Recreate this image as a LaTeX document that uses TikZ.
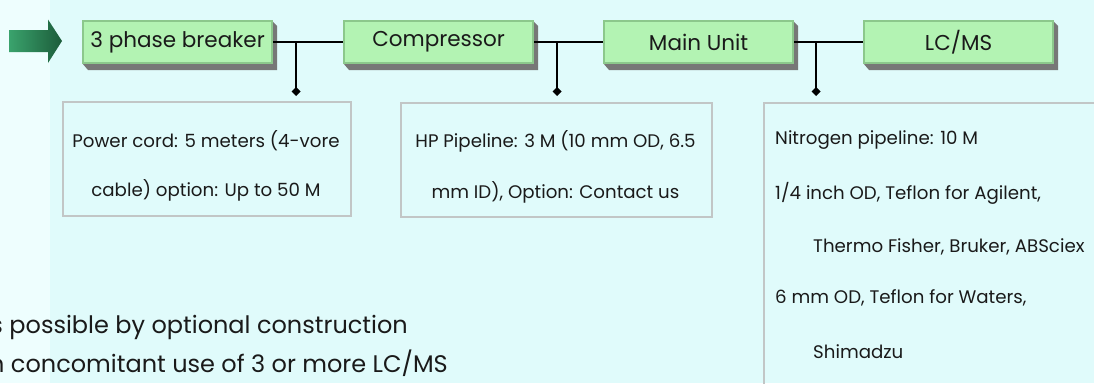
\documentclass[tikz,border=0pt]{standalone}
\usepackage{fontspec}
\setmainfont{Poppins}
\usetikzlibrary{arrows.meta}
\definecolor{bgc}{HTML}{E0FBFB}
\definecolor{bgl}{HTML}{EEFEFE}
\definecolor{facec}{HTML}{B3F3B3}
\definecolor{edgec}{HTML}{8CC88C}
\definecolor{shadc}{HTML}{777777}
\definecolor{notec}{HTML}{C2C6C6}
\definecolor{txt}{HTML}{1A1A1A}
\definecolor{arrA}{HTML}{3AA36D}
\definecolor{arrB}{HTML}{1C5C3A}
\tikzset{
  unitbox/.style={draw=edgec, line width=2.2pt, fill=facec, minimum width=189pt, minimum height=42pt, inner sep=0pt, anchor=north west, text=txt, font=\fontsize{21.5}{24}\selectfont},
  notebox/.style={draw=notec, line width=2pt, fill=none, anchor=north west, inner sep=0pt},
  notetext/.style={text=txt, font=\fontsize{18.2}{22}\selectfont, inner sep=0pt},
  bigtext/.style={text=txt, font=\fontsize{24}{28}\selectfont, inner sep=0pt, anchor=base east},
  wire/.style={line width=2.2pt, black},
  drop/.style={line width=2.2pt, black, -{Diamond[length=9pt,width=9pt]}}
}
\begin{document}
\begin{tikzpicture}[x=1pt,y=-1pt]
\useasboundingbox (0,0) rectangle (1094,383);
\clip (0,0) rectangle (1094,383);
\fill[bgc] (0,0) rectangle (1094,383);
\fill[bgl] (0,0) rectangle (50,383);
% arrow
\shade[left color=arrA, right color=arrB] (9,30) -- (48,30) -- (48,19.5) -- (62,41) -- (48,63) -- (48,52) -- (9,52) -- cycle;
% unit box extrusions
\foreach \x in {81,342,602,862}{
  \fill[shadc] (\x+190,20) -- (\x+196,26) -- (\x+196,70) -- (\x+7,70) -- (\x+1,63) -- (\x+190,63) -- cycle;
}
\node[unitbox] (b1) at (82,20) {3 phase breaker};
\node[unitbox] (b2) at (343,20) {Compressor};
\node[unitbox] (b3) at (603,20) {Main Unit};
\node[unitbox] (b4) at (863,20) {LC/MS};
% wires
\coordinate (j1) at (296,41);
\coordinate (j2) at (557,41);
\coordinate (j3) at (816,41);
\draw[wire] (b1.east) -- (b2.west);
\draw[wire] (b2.east) -- (b3.west);
\draw[wire] (b3.east) -- (b4.west);
\coordinate (d1) at (296,96);
\coordinate (d2) at (557,96);
\coordinate (d3) at (816,96);
\draw[drop] (j1) -- (d1);
\draw[drop] (j2) -- (d2);
\draw[drop] (j3) -- (d3);
% note boxes
\node[notebox, minimum width=288pt, minimum height=114pt] (n1) at (62,101) {};
\node[notebox, minimum width=311pt, minimum height=114pt] (n2) at (400,102) {};
\node[notebox, minimum width=360pt, minimum height=300pt] (n3) at (763,102) {};
\node[notetext] (t1a) at (206,141) {Power cord: 5 meters (4-vore};
\node[notetext] (t1b) at (206,190) {cable) option: Up to 50 M};
\node[notetext] (t2a) at (555.5,141) {HP Pipeline: 3 M (10 mm OD, 6.5};
\node[notetext] (t2b) at (555.5,192) {mm ID), Option: Contact us};
\node[notetext, anchor=west] (t3a) at (775,140) {Nitrogen pipeline: 10 M};
\node[notetext, anchor=west] (t3b) at (775,193) {1/4 inch OD, Teflon for Agilent,};
\node[notetext, anchor=west] (t3c) at (813,247) {Thermo Fisher, Bruker, ABSciex};
\node[notetext, anchor=west] (t3d) at (775,298) {6 mm OD, Teflon for Waters,};
\node[notetext, anchor=west] (t3e) at (813,352) {Shimadzu};
% bottom text (cut at the left edge, as in the reference)
\node[bigtext] (c1) at (408,333) {It's possible by optional construction};
\node[bigtext] (c2) at (448,372) {in concomitant use of 3 or more LC/MS};
\end{tikzpicture}
\end{document}
